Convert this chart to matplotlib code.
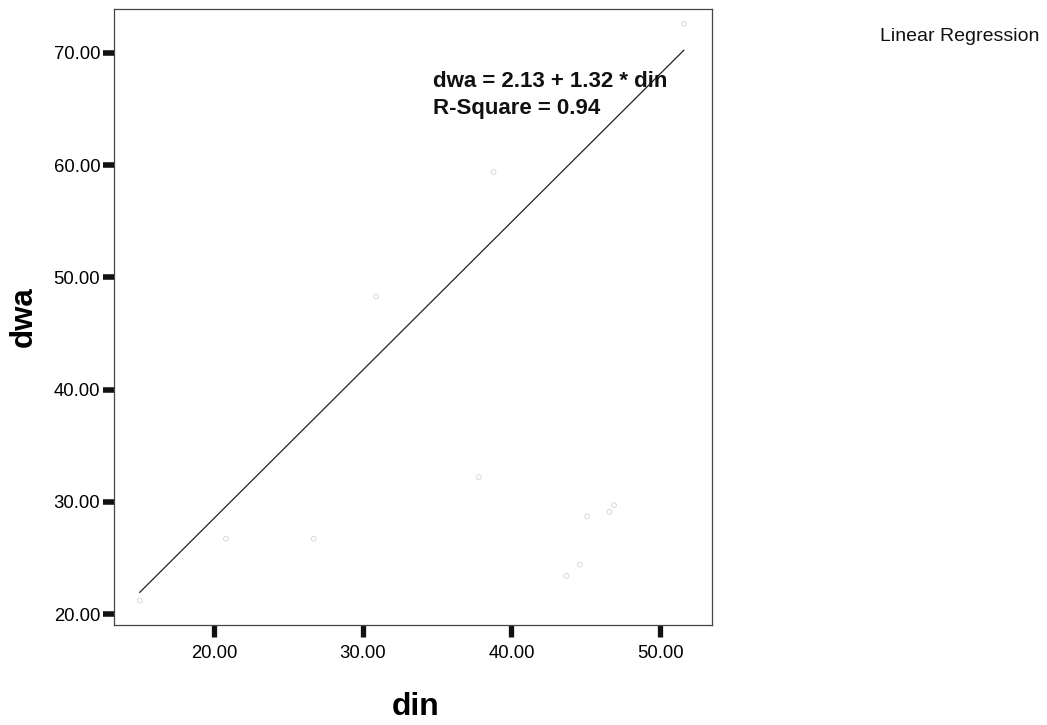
import matplotlib
matplotlib.use("Agg")
import matplotlib.pyplot as plt
import numpy as np

plt.rcParams['font.family'] = ['Liberation Sans', 'DejaVu Sans']

# observed (faintly visible) points
din = [15.0, 20.8, 26.7, 30.9, 37.8, 38.8, 43.7, 44.6, 45.1, 46.6, 46.9, 51.6]
dwa = [21.2, 26.7, 26.7, 48.3, 32.2, 59.4, 23.4, 24.4, 28.7, 29.1, 29.7, 72.6]

intercept = 2.13
slope = 1.32
r_square = 0.94

xticks = [20, 30, 40, 50]
yticks = [20, 30, 40, 50, 60, 70]

fig = plt.figure(figsize=(10.47, 7.25), dpi=100)
ax = fig.add_axes([0.1089, 0.1379, 0.5712, 0.8497])

ax.scatter(din, dwa, s=12, facecolors='none', edgecolors='#d4d4d4', linewidths=0.6, zorder=2)

xl = np.array([min(din), max(din)])
ax.plot(xl, intercept + slope * xl, color='#222222', lw=0.9, zorder=3)

ax.set_xlim(13.27, 53.5)
ax.set_ylim(19.02, 73.92)
ax.set_xticks(xticks)
ax.set_yticks(yticks)
ax.set_xticklabels([f"{v:.2f}" for v in xticks], fontsize=13.3)
ax.set_yticklabels([f"{v:.2f}" for v in yticks], fontsize=13.3)
ax.tick_params(axis='x', direction='out', length=8.6, width=3.8, color='#111111', pad=5.5)
ax.tick_params(axis='y', direction='out', length=8, width=4, color='#111111', pad=2)
for s in ax.spines.values():
    s.set_linewidth(0.9)
    s.set_color('#444444')

ax.set_xlabel('din', fontsize=23, fontweight='bold', va='baseline')
ax.xaxis.set_label_coords(0.5047, -0.146)
ax.set_ylabel('dwa', fontsize=22.5, fontweight='bold')
ax.yaxis.set_label_coords(-0.126, 0.50)

ax.text(0.5334, 0.8734, f"dwa = {intercept:.2f} + {slope:.2f} * din",
        transform=ax.transAxes, fontsize=16, fontweight='bold', va='baseline', ha='left',
        color='#111111')
ax.text(0.5334, 0.8295, f"R-Square = {r_square:.2f}",
        transform=ax.transAxes, fontsize=16, fontweight='bold', va='baseline', ha='left',
        color='#111111')

fig.text(0.917, 0.949, 'Linear Regression', fontsize=14, ha='center', va='center', color='#111111')

fig.savefig('out.png', dpi=100)
